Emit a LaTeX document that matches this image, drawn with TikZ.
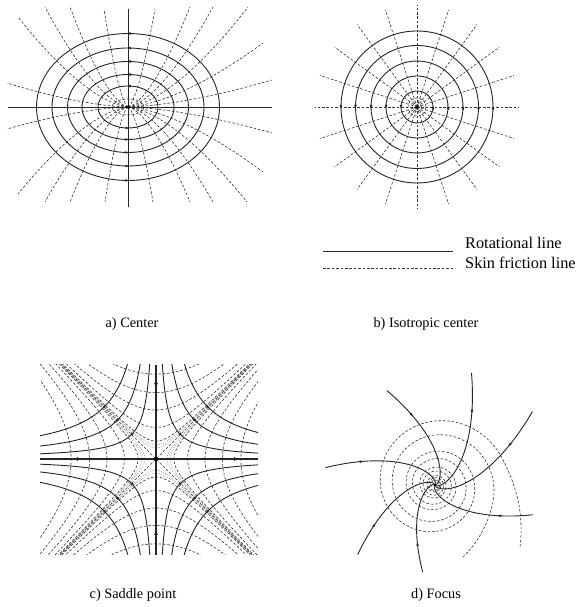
\documentclass[tikz,border=0pt]{standalone}
\usepackage{fontspec}
\setmainfont{Liberation Serif}
\usetikzlibrary{arrows.meta}
\begin{document}
\begin{tikzpicture}[x=1pt,y=1pt,
  rot/.style={line width=0.9pt,draw=black!85},
  skin/.style={line width=0.6pt,draw=black!80,dash pattern=on 2.6pt off 1.8pt},
  faint/.style={line width=0.5pt,draw=black!45,dash pattern=on 1pt off 1.2pt},
  tip/.style={draw=black!85,line width=0.6pt,-{Latex[length=3.5pt,width=2.8pt]}},
  bigtip/.style={draw=black!85,line width=0.8pt,-{Latex[length=5pt,width=4pt]}},
  captext/.style={font=\fontsize{14.3}{16}\selectfont,anchor=base,inner sep=0pt},
  legtext/.style={font=\fontsize{16.3}{18}\selectfont,anchor=base west,inner sep=0pt},
  declare function={
    rA(\t)=64*exp((90-\t)/561.5)+25*(max(0,22-\t)/58)*(max(0,22-\t)/58);
    rB(\t)=50*exp((90-\t)/561.5)+11*(max(0,-20-\t)/49)*(max(0,-20-\t)/49);
  }]
\fill[white] (0,0) rectangle (579,607);
\useasboundingbox (0,0) rectangle (579,607);

% ---------- a) Center ----------
\begin{scope}[shift={(128,500)}]
  \foreach \dx/\dy in {-83/100,-58/100,-24/98,27/98,62/100,85/100,120/100,-110/90,-121/24,-121/-22,-110/-87,-83/-95,-58/-95,-23/-95,25/-95,62/-95,85/-95,119/-95,135/64,144/27,144/-26,135/-65}
    \draw[skin] (0,0) -- plot[domain=0.02:1,samples=30,smooth] ({\dx*\x},{\dy*pow(\x,1.55)});
  \foreach \a/\b in {91.5/73.5,76/59,60.5/45.5,46/32.5,30/21}{
    \draw[rot] (0,0) ellipse [x radius=\a, y radius=\b];
    \draw[tip] (2.5,\b) -- (-1,\b);
    \draw[tip] (-2.5,-\b) -- (1,-\b);
  }
  \draw[skin] (0,0) ellipse [x radius=16, y radius=8];
  \draw[rot] (-120,0) -- (144,0);
  \draw[rot] (0,98) -- (0,-100);
  \fill[black] (0,0) circle (1.6);
\end{scope}

% ---------- b) Isotropic center ----------
\begin{scope}[shift={(417,500)}]
  \foreach \t in {0,18,...,342}
    \draw[skin] (0,0) -- (\t:102);
  \foreach \r in {76,61.5,46,31,16}{
    \draw[rot] (0,0) circle (\r);
    \draw[tip] (-\r,2) -- (-\r,-1.5);
    \draw[tip] (\r,-2) -- (\r,1.5);
  }
  \draw[skin] (0,0) circle (9);
  \draw[skin] (0,0) circle (4.5);
  \fill[black] (0,0) circle (1.6);
\end{scope}

% ---------- legend ----------
\coordinate (l1a) at (323,355);
\coordinate (l1b) at (453,355);
\coordinate (l2a) at (323,339);
\coordinate (l2b) at (453,339);
\draw[rot,line width=1pt] (l1a) -- (l1b);
\draw[skin] (l2a) -- (l2b);
\node[legtext] (legrot) at (465,358) {Rotational line};
\node[legtext] (legskin) at (465,338) {Skin friction line};

% ---------- c) Saddle point ----------
\begin{scope}[shift={(156,148)}]
  \begin{scope}
    \clip (-116,-96) rectangle (102,94);
    \foreach \c/\u in {324/2.9,1000/2.3,2400/1.9,4400/1.6,7200/1.3}{
      \pgfmathsetmacro\sq{sqrt(\c)}
      \foreach \s in {1,-1}{
        \draw[skin] plot[domain=-\u:\u,samples=60,smooth] ({\s*\sq*cosh(\x)},{\sq*sinh(\x)});
        \draw[skin] plot[domain=-\u:\u,samples=60,smooth] ({\sq*sinh(\x)},{\s*\sq*cosh(\x)});
      }
    }
    \foreach \c/\u in {120/3.5,200/3.2}{
      \pgfmathsetmacro\sq{sqrt(\c)}
      \foreach \s in {1,-1}{
        \draw[faint] plot[domain=-\u:\u,samples=80,smooth] ({\s*\sq*cosh(\x)},{\sq*sinh(\x)});
        \draw[faint] plot[domain=-\u:\u,samples=80,smooth] ({\sq*sinh(\x)},{\s*\sq*cosh(\x)});
      }
    }
    \draw[skin] (-130,-130) -- (130,130);
    \draw[skin] (-130,130) -- (130,-130);
    \foreach \c in {600,1500,2700}{
      \pgfmathsetmacro\sq{sqrt(\c)}
      \pgfmathsetmacro\L{ln(130/\sq)}
      \foreach \sx/\sy in {1/1,1/-1,-1/1,-1/-1}{
        \draw[rot] plot[domain=-1:1,samples=50,smooth]
          ({\sx*\sq*exp(\x*\L)},{\sy*\sq/exp(\x*\L)});
        \draw[tip] ({\sq*\sx-1.5*\sx},{\sq*\sy+1.5*\sy}) -- ({\sq*\sx+1.5*\sx},{\sq*\sy-1.5*\sy});
      }
    }
  \end{scope}
  \draw[rot,line width=1.4pt] (-116,0) -- (102,0);
  \draw[rot,line width=1.4pt] (0,-96) -- (0,94);
  \draw[bigtip] (0,76) -- (0,71);
  \draw[bigtip] (0,-76) -- (0,-71);
  \draw[bigtip] (-78,0) -- (-83,0);
  \draw[bigtip] (78,0) -- (83,0);
  \fill[black] (0,0) circle (1.8);
\end{scope}

% ---------- d) Focus ----------
\begin{scope}[shift={(435,122)}]
  \draw[skin] plot[domain=-36:1640,samples=500,smooth] ({rA(\x)*cos(\x)},{rA(\x)*sin(\x)});
  \draw[skin] plot[domain=-69:1500,samples=500,smooth] ({rB(\x)*cos(\x)},{rB(\x)*sin(\x)});
  \foreach \te/\R in {117/106,72/118,37/122,-17/102,-98/88,-138/104,171/111}{
    \pgfmathsetmacro\L{ln(\R/1.5)}
    \draw[rot] plot[domain=0:1,samples=70,smooth]
      ({\R*cos(\te-24*\x*\L)/exp(\x*\L)},{\R*sin(\te-24*\x*\L)/exp(\x*\L)});
    \draw[tip] ({\te-7.88}:{0.72*\R}) -- ({\te-9.26}:{0.68*\R});
  }
  \fill[black] (0,0) circle (1.6);
\end{scope}

% ---------- captions ----------
\node[captext] (capa) at (132,279) {a) Center};
\node[captext] (capb) at (426,279) {b) Isotropic center};
\node[captext] (capc) at (133,9) {c) Saddle point};
\node[captext] (capd) at (436,9) {d) Focus};
\end{tikzpicture}
\end{document}
